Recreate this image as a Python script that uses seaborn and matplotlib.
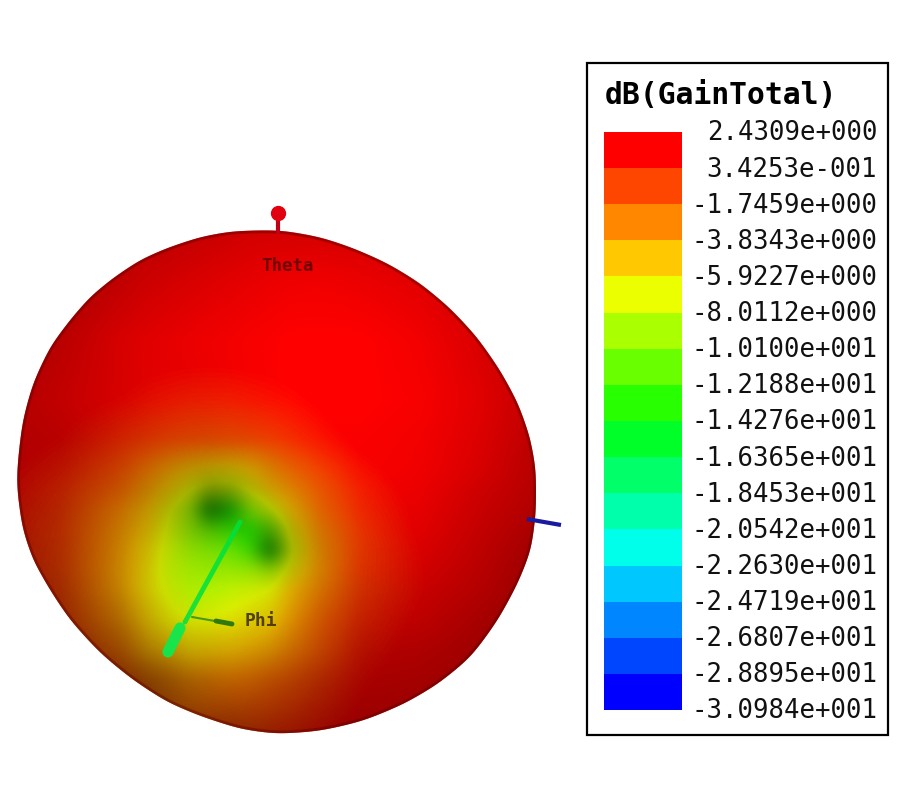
import numpy as np
import matplotlib
matplotlib.use("Agg")
import matplotlib.pyplot as plt
from matplotlib.colors import LinearSegmentedColormap, ListedColormap
from matplotlib.patches import Polygon, Rectangle
from matplotlib.transforms import ScaledTranslation
import seaborn as sns

LEGEND_TITLE = "dB(GainTotal)"
LEVEL_LABELS = ["2.4309e+000", "3.4253e-001", "-1.7459e+000", "-3.8343e+000", "-5.9227e+000",
                "-8.0112e+000", "-1.0100e+001", "-1.2188e+001", "-1.4276e+001", "-1.6365e+001",
                "-1.8453e+001", "-2.0542e+001", "-2.2630e+001", "-2.4719e+001", "-2.6807e+001",
                "-2.8895e+001", "-3.0984e+001"]
LEVEL_VALUES = [2.4309, 0.34253, -1.7459, -3.8343, -5.9227, -8.0112, -10.100, -12.188, -14.276,
                -16.365, -18.453, -20.542, -22.630, -24.719, -26.807, -28.895, -30.984]
BAND_COLORS = ["#ff0000", "#ff4600", "#ff8700", "#ffc800", "#ebff00", "#aaff00", "#69ff00", "#28ff00",
               "#00ff28", "#00ff69", "#00ffaa", "#00ffeb", "#00c8ff", "#0087ff", "#0046ff", "#0000ff"]

# picture-space sampling nodes of the radiation pattern
grid_x = [0, 60, 120, 150, 170, 190, 210, 230, 250, 270, 290, 320, 360, 420, 480, 540]
grid_y = [220, 280, 340, 400, 440, 470, 490, 510, 530, 550, 570, 590, 620, 650, 680, 740]

# gain in dB, rows follow grid_y, columns follow grid_x
gain_db = [
    [2.4] * 16,
    [2.4] * 16,
    [2.4, 2.4, 2.2, 2.0, 2.0, 2.0, 2.0, 2.0, 2.0, 2.0, 2.2, 2.4, 2.4, 2.4, 2.4, 2.4],
    [2.2, 1.8, 1.2, 0.8, 0.6, 0.4, 0.4, 0.4, 0.6, 0.8, 1.0, 1.5, 2.2, 2.4, 2.4, 2.4],
    [2.0, 1.2, 0.0, -0.6, -0.9, -1.1, -1.2, -1.2, -1.0, -0.7, -0.2, 0.6, 1.6, 2.4, 2.4, 2.4],
    [1.5, 0.5, -1.2, -2.8, -4.0, -5.0, -5.6, -5.8, -5.0, -3.5, -2.2, -0.8, 0.8, 2.0, 2.4, 2.4],
    [1.3, 0.0, -2.0, -4.0, -5.5, -7.0, -8.0, -8.0, -6.8, -5.0, -3.5, -1.6, 0.3, 1.8, 2.4, 2.4],
    [1.0, -0.3, -3.0, -5.0, -7.0, -9.0, -13.0, -13.5, -10.0, -7.5, -5.0, -2.2, 0.0, 1.6, 2.4, 2.4],
    [0.8, -0.5, -3.5, -5.5, -7.5, -9.5, -11.0, -12.5, -13.5, -11.0, -6.5, -3.0, -0.4, 1.5, 2.4, 2.4],
    [0.6, -0.6, -3.8, -6.0, -7.8, -9.2, -10.0, -10.8, -12.0, -13.0, -7.5, -3.5, -0.6, 1.3, 2.4, 2.4],
    [0.6, -0.7, -4.0, -6.2, -8.0, -8.8, -9.2, -9.2, -9.2, -9.0, -6.5, -3.5, -0.5, 1.2, 2.2, 2.4],
    [0.6, -0.7, -4.0, -6.2, -7.5, -8.5, -8.5, -8.0, -7.5, -7.0, -5.0, -3.0, -0.5, 1.2, 2.2, 2.4],
    [0.8, -0.5, -3.5, -5.5, -6.5, -7.0, -6.8, -6.5, -6.0, -5.5, -4.0, -2.0, 0.0, 1.5, 2.3, 2.4],
    [1.0, 0.0, -2.5, -4.5, -5.0, -5.5, -5.2, -5.0, -4.5, -4.0, -3.0, -1.5, 0.5, 1.8, 2.4, 2.4],
    [1.5, 0.8, -1.2, -2.5, -3.0, -3.2, -3.0, -2.8, -2.5, -2.0, -1.5, -0.5, 1.0, 2.2, 2.4, 2.4],
    [2.0, 1.5, 0.0, -0.5, -1.0, -1.0, -0.8, -0.6, -0.4, 0.0, 0.4, 1.0, 1.8, 2.4, 2.4, 2.4],
]

# shading (darkening) of the lit surface
shade = [
    [.35, .35, .30, .30, .28, .26, .24, .22, .20, .20, .20, .20, .20, .20, .25, .30],
    [.35, .35, .25, .20, .18, .16, .14, .12, .10, .08, .07, .06, .08, .12, .20, .30],
    [.35, .28, .16, .12, .10, .08, .06, .05, .03, .02, .00, .00, .00, .05, .15, .28],
    [.32, .24, .16, .12, .10, .10, .08, .06, .04, .02, .00, .00, .00, .03, .12, .25],
    [.32, .28, .20, .18, .17, .17, .17, .15, .12, .08, .05, .02, .02, .05, .14, .28],
    [.32, .28, .22, .22, .25, .28, .30, .28, .22, .18, .12, .06, .03, .06, .16, .30],
    [.32, .28, .23, .26, .28, .30, .45, .40, .28, .22, .15, .10, .05, .08, .20, .30],
    [.34, .30, .23, .25, .28, .30, .62, .45, .25, .25, .20, .13, .07, .10, .22, .32],
    [.36, .30, .23, .22, .22, .24, .28, .22, .22, .38, .28, .18, .10, .12, .24, .35],
    [.40, .32, .22, .18, .15, .15, .14, .12, .18, .58, .30, .20, .13, .15, .26, .38],
    [.42, .34, .22, .16, .12, .10, .10, .10, .12, .22, .22, .18, .15, .18, .28, .40],
    [.45, .38, .24, .16, .12, .08, .06, .06, .08, .10, .14, .18, .20, .22, .30, .42],
    [.48, .42, .32, .22, .16, .12, .10, .08, .10, .12, .15, .20, .24, .26, .35, .45],
    [.50, .48, .40, .33, .28, .22, .20, .18, .18, .20, .22, .25, .30, .32, .38, .42],
    [.55, .55, .50, .48, .42, .35, .30, .26, .26, .28, .30, .33, .34, .36, .40, .45],
    [.55, .55, .55, .55, .55, .50, .50, .50, .46, .44, .42, .42, .42, .42, .45, .45],
]

# outline of the pattern in picture coordinates
outline_x = [16, 22, 33, 50, 70, 90, 113, 140, 167, 200, 233, 280, 320, 353, 387, 420, 450, 477, 500, 518, 530,
             536, 536, 531, 518, 498, 471, 438, 404, 363, 320, 277, 240, 200, 167, 133, 100, 70, 50, 33, 22]
outline_y = [480, 423, 383, 347, 320, 297, 278, 260, 248, 237, 231, 230, 237, 248, 263, 283, 308, 337, 370, 403, 437,
             470, 513, 550, 583, 620, 657, 684, 704, 721, 731, 734, 729, 716, 702, 680, 653, 620, 590, 560, 527]

theta_axis_x, theta_axis_y = [278, 278], [213, 234]
phi_axis_x, phi_axis_y = [240, 185], [522, 622]
phi_head_x, phi_head_y = [180, 168], [628, 652]
x_axis_x, x_axis_y = [527, 561], [519, 525]
phi_tick_x, phi_tick_y = [192, 232], [617, 624]
phi_tick_end_x, phi_tick_end_y = [216, 232], [621, 624]


def blur(a, sigma):
    r = int(3 * sigma)
    k = np.exp(-0.5 * (np.arange(-r, r + 1) / sigma) ** 2)
    k /= k.sum()
    out = np.array(a, float)
    for axis in (0, 1):
        pad = [(r, r) if i == axis else (0, 0) for i in range(2)]
        out = np.apply_along_axis(lambda v: np.convolve(v, k, mode="valid"), axis, np.pad(out, pad, mode="edge"))
    return out


def resample(a, xs, ys):
    a = np.array(a, float)
    rows = np.array([np.interp(xs, grid_x, row) for row in a])
    return np.array([np.interp(ys, grid_y, col) for col in rows.T]).T


sns.set_theme(style="white")
plt.rcParams["font.family"] = ["DejaVu Sans Mono", "DejaVu Sans"]

fig = plt.figure(figsize=(9, 8), dpi=100)
ax = fig.add_axes([0, 0, 1, 1])

vmin, vmax = LEVEL_VALUES[-1], LEVEL_VALUES[0]
centres = [(LEVEL_VALUES[i] + LEVEL_VALUES[i + 1]) / 2 for i in range(16)]
anchors = sorted([(0.0, BAND_COLORS[-1])] +
                 [((c - vmin) / (vmax - vmin), col) for c, col in zip(centres, BAND_COLORS)] +
                 [(1.0, BAND_COLORS[0])], key=lambda t: t[0])
field_cmap = LinearSegmentedColormap.from_list("hfss", anchors)
shade_cmap = LinearSegmentedColormap.from_list("shade", [(0, 0, 0, 0), (0, 0, 0, 1)])

fine_x = np.arange(0, 541)
fine_y = np.arange(220, 741)
gain_fine = blur(resample(gain_db, fine_x, fine_y), 5)
shade_fine = blur(resample(shade, fine_x, fine_y), 6)

# smoothed closed outline
n = len(outline_x)
t = np.linspace(0, n, 1200, endpoint=False)
w = 9
kernel = np.ones(2 * w + 1) / (2 * w + 1)
ox = np.interp(t, np.arange(n + 1), outline_x + outline_x[:1])
oy = np.interp(t, np.arange(n + 1), outline_y + outline_y[:1])
for _ in range(2):
    ox = np.convolve(np.r_[ox[-w:], ox, ox[:w]], kernel, mode="valid")
    oy = np.convolve(np.r_[oy[-w:], oy, oy[:w]], kernel, mode="valid")

extent = (0, 540, 740, 220)
im1 = ax.imshow(gain_fine, extent=extent, cmap=field_cmap, vmin=vmin, vmax=vmax, aspect="auto", zorder=1)
im2 = ax.imshow(shade_fine, extent=extent, cmap=shade_cmap, vmin=0, vmax=1, aspect="auto", zorder=2)
ax.set_xlim(0, 900)
ax.set_ylim(800, 0)
ax.axis("off")
clip = Polygon(np.column_stack([ox, oy]), closed=True, transform=ax.transData, facecolor="none", edgecolor="none")
ax.add_patch(clip)
im1.set_clip_path(clip)
im2.set_clip_path(clip)
# dark rim of the surface, kept inside the outline
rim = Polygon(np.column_stack([ox, oy]), closed=True, facecolor="none", edgecolor="#600000",
              lw=4, alpha=.45, zorder=2.5)
ax.add_patch(rim)
rim.set_clip_path(clip)

# axes triad
ax.plot(theta_axis_x, theta_axis_y, color="#c00018", lw=3, zorder=3, solid_capstyle="butt")
ax.plot(theta_axis_x[:1], theta_axis_y[:1], marker="o", ms=10, color="#e00010", zorder=4)
ax.plot(x_axis_x, x_axis_y, color="#1a1aa0", lw=3, zorder=3, solid_capstyle="butt")
ax.plot(phi_axis_x, phi_axis_y, color="#00e040", lw=3.5, zorder=4, solid_capstyle="round", alpha=.85)
ax.plot(phi_head_x, phi_head_y, color="#10e850", lw=8, zorder=4, solid_capstyle="round", alpha=.95)
ax.plot(phi_tick_x, phi_tick_y, color="#4a9a10", lw=1.5, zorder=4)
ax.plot(phi_tick_end_x, phi_tick_end_y, color="#2f7a10", lw=3.5, zorder=4)
ax.text(288, 266, "Theta", fontsize=12.5, fontweight="bold", color="#500000", ha="center", va="center", zorder=5, alpha=.75)
ax.text(261, 621, "Phi", fontsize=13, fontweight="bold", color="#3a2800", ha="center", va="center", zorder=5, alpha=.85)

# legend frame
ax.add_patch(Rectangle((587, 63), 301, 672, facecolor="white", edgecolor="black", lw=1.6, zorder=6))
ax.text(605, 95, LEGEND_TITLE, fontsize=21.4, fontweight="bold", color="black", ha="left", va="center", zorder=7)

# legend colour bar
cax = fig.add_axes([604 / 900, 1 - 710 / 800, 78 / 900, 578 / 800], zorder=8)
sns.heatmap(np.arange(16).reshape(-1, 1), ax=cax, cmap=ListedColormap(BAND_COLORS), cbar=False,
            xticklabels=False, yticklabels=False, vmin=-.5, vmax=15.5, linewidths=0)
cax.yaxis.tick_right()
cax.set_yticks(np.arange(17))
cax.set_yticklabels(LEVEL_LABELS, rotation=0, ha="right", va="center", fontsize=18.5, color="#111111")
cax.tick_params(axis="y", length=0, pad=140.5)
shift = ScaledTranslation(0, -1.5 / 100, fig.dpi_scale_trans)
for lab in cax.get_yticklabels():
    lab.set_transform(lab.get_transform() + shift)
for s in cax.spines.values():
    s.set_visible(False)

fig.savefig("out.png", dpi=100, facecolor="white")
